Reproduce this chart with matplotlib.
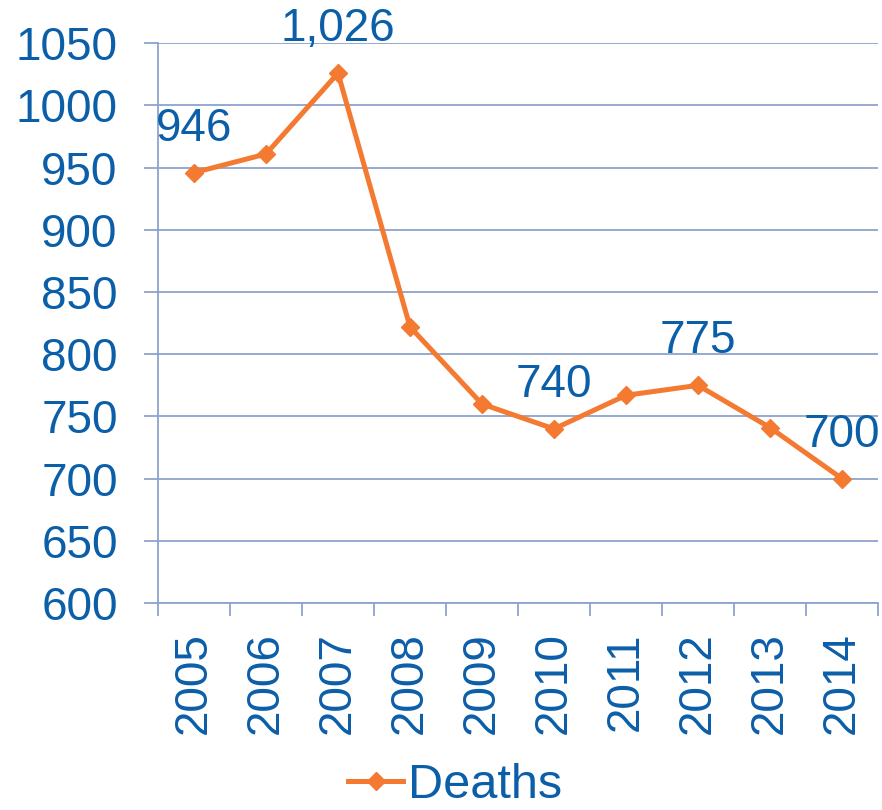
import matplotlib
matplotlib.use("Agg")
import matplotlib.pyplot as plt
from matplotlib.ticker import MultipleLocator, FixedLocator

plt.rcParams['font.family'] = ['Liberation Sans', 'DejaVu Sans']

years = ['2005', '2006', '2007', '2008', '2009', '2010', '2011', '2012', '2013', '2014']
deaths = [946, 961, 1026, 822, 760, 740, 767, 775, 741, 700]
label_text = {0: '946', 2: '1,026', 5: '740', 7: '775', 9: '700'}

BLUE = '#0B5EA8'
ORANGE = '#F47A32'
GRID = '#8EA2CB'
FS = 33

fig = plt.figure(figsize=(8.82, 8.10), dpi=100)
ax = fig.add_axes([158/882, 1 - 603/810, (878 - 158)/882, (603 - 43.3)/810])

x = list(range(len(years)))
line, = ax.plot(x, deaths, color=ORANGE, lw=3.6, marker='D', ms=9.5,
                markeredgecolor=ORANGE, markerfacecolor=ORANGE, label='Deaths',
                zorder=3, clip_on=False)

for i, t in label_text.items():
    ax.annotate(t, (x[i], deaths[i]), xytext=(0, 23), textcoords='offset points',
                ha='center', va='baseline', fontsize=FS, color=BLUE, zorder=4,
                annotation_clip=False)

ax.set_xlim(-0.5, len(years) - 0.5)
ax.set_ylim(600, 1050)
ax.yaxis.set_major_locator(MultipleLocator(50))
ax.grid(axis='y', color=GRID, lw=1.3)
ax.set_axisbelow(True)

ax.xaxis.set_major_locator(FixedLocator(x))
ax.set_xticklabels(years, rotation=90, fontsize=FS, color=BLUE)
ax.xaxis.set_minor_locator(FixedLocator([i - 0.5 for i in range(len(years) + 1)]))
ax.tick_params(axis='x', which='major', length=0, pad=21)
ax.tick_params(axis='x', which='minor', length=9.5, width=1.3, color=GRID, direction='out')
ax.tick_params(axis='y', which='major', length=10, width=1.3, color=GRID, direction='out',
               labelsize=FS, labelcolor=BLUE, pad=19)

for s in ['top', 'right']:
    ax.spines[s].set_visible(False)
for s in ['left', 'bottom']:
    ax.spines[s].set_color(GRID)
    ax.spines[s].set_linewidth(1.3)

fig.legend(handles=[line], loc='center', bbox_to_anchor=(455/882, 1 - 786/810),
           frameon=False, fontsize=35, handlelength=1.15, handletextpad=0.1,
           numpoints=1, labelcolor=BLUE, borderpad=0)

fig.savefig('out.png', dpi=100)
